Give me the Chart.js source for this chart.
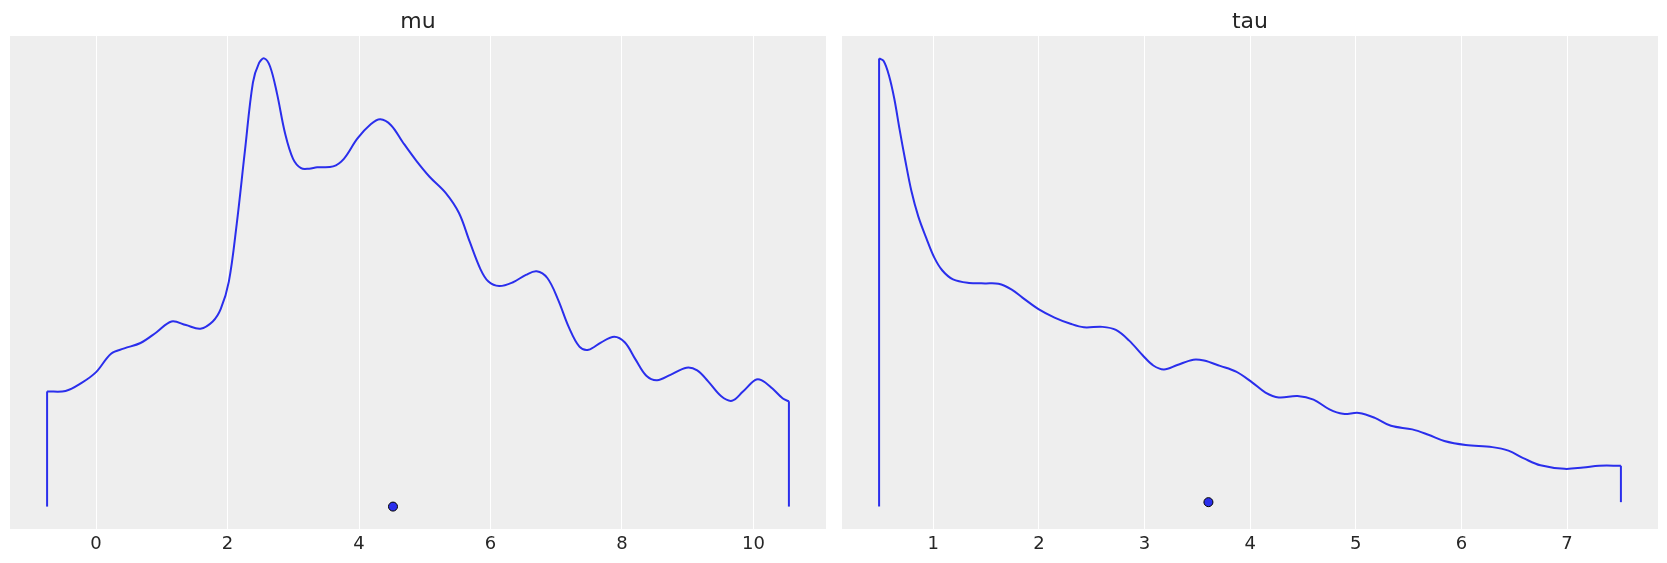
<!DOCTYPE html>
<html>
<head>
<meta charset="utf-8">
<script src="https://cdn.jsdelivr.net/npm/chart.js@4/dist/chart.umd.min.js"></script>
<style>
  html, body { margin: 0; padding: 0; background: #ffffff; }
  #wrap { position: relative; width: 1667px; height: 563px; }
  #c1 { position: absolute; left: 0; top: 0; }
  #c2 { position: absolute; left: 833px; top: 0; }
</style>
</head>
<body>
<div id="wrap">
  <canvas id="c1" width="833" height="563"></canvas>
  <canvas id="c2" width="834" height="563"></canvas>
</div>
<script>
// ---- data (density in peak-normalized units) ----
const muTitle = "mu";
const tauTitle = "tau";
const muX = [-0.745, -0.464, -0.22, 0, 0.228, 0.43, 0.676, 0.92, 1.148, 1.368, 1.588, 1.775, 1.897, 2.02, 2.14, 2.264, 2.386, 2.48, 2.557, 2.647, 2.752, 2.875, 2.997, 3.119, 3.241, 3.363, 3.607, 3.77, 3.974, 4.178, 4.324, 4.487, 4.666, 4.87, 5.073, 5.318, 5.521, 5.684, 5.847, 5.969, 6.132, 6.336, 6.539, 6.702, 6.865, 7.028, 7.19, 7.353, 7.492, 7.679, 7.883, 8.046, 8.208, 8.371, 8.534, 8.738, 8.982, 9.145, 9.308, 9.511, 9.674, 9.837, 10.024, 10.12, 10.285, 10.448, 10.54];
const muY = [0.257, 0.258, 0.276, 0.300, 0.341, 0.353, 0.365, 0.389, 0.413, 0.405, 0.397, 0.413, 0.441, 0.502, 0.631, 0.793, 0.946, 0.990, 1.000, 0.982, 0.922, 0.833, 0.776, 0.755, 0.754, 0.757, 0.759, 0.776, 0.821, 0.853, 0.864, 0.851, 0.813, 0.772, 0.736, 0.700, 0.655, 0.591, 0.530, 0.502, 0.492, 0.500, 0.517, 0.525, 0.510, 0.462, 0.401, 0.357, 0.350, 0.366, 0.379, 0.366, 0.328, 0.292, 0.282, 0.294, 0.310, 0.304, 0.280, 0.246, 0.236, 0.256, 0.282, 0.282, 0.264, 0.241, 0.235];
const muEdgeBottom = [0, 0];
const muPoint = [4.517];
const muTicks = [0, 2, 4, 6, 8, 10];

const tauX = [0.487, 0.53, 0.58, 0.631, 0.681, 0.732, 0.793, 0.858, 0.934, 1.01, 1.086, 1.187, 1.339, 1.49, 1.617, 1.743, 1.844, 1.996, 2.148, 2.299, 2.426, 2.603, 2.729, 2.855, 2.982, 3.083, 3.184, 3.31, 3.462, 3.563, 3.715, 3.867, 4.018, 4.145, 4.271, 4.448, 4.6, 4.751, 4.878, 5.029, 5.181, 5.333, 5.535, 5.687, 5.838, 6.04, 6.293, 6.445, 6.597, 6.748, 6.976, 7.153, 7.304, 7.51];
const tauY = [1.000, 0.994, 0.962, 0.909, 0.840, 0.774, 0.701, 0.644, 0.595, 0.551, 0.522, 0.502, 0.494, 0.493, 0.492, 0.479, 0.461, 0.435, 0.416, 0.402, 0.394, 0.395, 0.388, 0.364, 0.331, 0.308, 0.299, 0.309, 0.321, 0.319, 0.307, 0.294, 0.270, 0.247, 0.236, 0.239, 0.231, 0.209, 0.199, 0.201, 0.190, 0.172, 0.164, 0.152, 0.138, 0.129, 0.124, 0.116, 0.098, 0.083, 0.075, 0.078, 0.082, 0.082];
const tauEdgeBottom = [-0.01, 0];
const tauPoint = [3.605];
const tauTicks = [1, 2, 3, 4, 5, 6, 7];

// ---- styling ----
const LINE = "#2a2eec";
const TEXT = "#262626";
const FONT = "'DejaVu Sans', sans-serif";

const bgPlugin = {
  id: "bg",
  beforeDraw(chart) {
    const a = chart.chartArea, ctx = chart.ctx;
    ctx.save();
    ctx.fillStyle = "#eeeeee";
    ctx.fillRect(a.left, a.top, a.right - a.left, a.bottom - a.top);
    ctx.restore();
  }
};

function margins(lo, hi) {
  const s = hi - lo;
  return [lo - 0.05 * s, hi + 0.05 * s];
}

function makeChart(id, title, xs, ys, edgeBottom, point, ticks, padL, padR) {
  const n = xs.length;
  const [xmin, xmax] = margins(xs[0], xs[n - 1]);
  const ylo = Math.min(0, ...edgeBottom);
  const yhi = Math.max(...ys);
  const [ymin, ymax] = margins(ylo, yhi);
  const curve = xs.map((x, i) => ({ x: x, y: ys[i] }));
  const leftEdge = [{ x: xs[0], y: edgeBottom[0] }, { x: xs[0], y: ys[0] }];
  const rightEdge = [{ x: xs[n - 1], y: edgeBottom[1] }, { x: xs[n - 1], y: ys[n - 1] }];
  const pts = point.map(v => ({ x: v, y: 0 }));
  const lineDs = (data) => ({
    data: data, borderColor: LINE, borderWidth: 2, pointRadius: 0,
    showLine: true, fill: false, borderCapStyle: "butt", tension: 0
  });
  return new Chart(document.getElementById(id), {
    type: "scatter",
    data: {
      datasets: [
        Object.assign(lineDs(curve), { tension: 0.35, borderJoinStyle: "round" }),
        lineDs(leftEdge),
        lineDs(rightEdge),
        {
          data: pts, showLine: false, pointRadius: 4.5, pointBorderWidth: 1,
          pointBackgroundColor: LINE, pointBorderColor: "#000000"
        }
      ]
    },
    options: {
      responsive: false, animation: false, devicePixelRatio: 1,
      layout: { padding: { left: padL, right: padR, top: 0, bottom: 0 } },
      plugins: {
        legend: { display: false },
        tooltip: { enabled: false },
        title: {
          display: true, text: title, color: TEXT,
          font: { family: FONT, size: 22, weight: "normal", lineHeight: 1.2 },
          padding: { top: 9, bottom: 0.6 }
        }
      },
      scales: {
        x: {
          type: "linear", min: xmin, max: xmax,
          afterBuildTicks: axis => { axis.ticks = ticks.map(v => ({ value: v })); },
          afterFit: axis => { axis.height = 34; },
          border: { display: false },
          grid: { color: "#ffffff", lineWidth: 1, drawTicks: false, tickLength: 0 },
          ticks: {
            color: TEXT, padding: 5, maxRotation: 0, autoSkip: false,
            font: { family: FONT, size: 18 },
            callback: v => String(v)
          }
        },
        y: {
          type: "linear", display: false, min: ymin, max: ymax
        }
      }
    },
    plugins: [bgPlugin]
  });
}

makeChart("c1", muTitle, muX, muY, muEdgeBottom, muPoint, muTicks, 10, 7);
makeChart("c2", tauTitle, tauX, tauY, tauEdgeBottom, tauPoint, tauTicks, 9, 9);
</script>
</body>
</html>
